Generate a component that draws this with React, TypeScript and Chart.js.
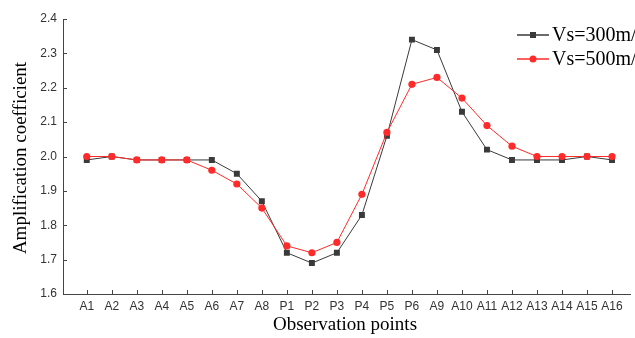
import React, { useEffect, useRef } from "react";
import { Chart, registerables } from "chart.js";

Chart.register(...registerables);

const categories = [
  "A1", "A2", "A3", "A4", "A5", "A6", "A7", "A8",
  "P1", "P2", "P3", "P4", "P5", "P6",
  "A9", "A10", "A11", "A12", "A13", "A14", "A15", "A16",
];
const vs300 = [1.99, 2.0, 1.99, 1.99, 1.99, 1.99, 1.95, 1.87, 1.72, 1.69, 1.72, 1.83, 2.06, 2.34, 2.31, 2.13, 2.02, 1.99, 1.99, 1.99, 2.0, 1.99];
const vs500 = [2.0, 2.0, 1.99, 1.99, 1.99, 1.96, 1.92, 1.85, 1.74, 1.72, 1.75, 1.89, 2.07, 2.21, 2.23, 2.17, 2.09, 2.03, 2.0, 2.0, 2.0, 2.0];
const yTicks = [1.6, 1.7, 1.8, 1.9, 2.0, 2.1, 2.2, 2.3, 2.4];
const seriesNames = ["Vs=300m/s", "Vs=500m/s"];
const xTitle = "Observation points";
const yTitle = "Amplification coefficient";

const BLACK = "#3a3a3a";
const RED = "#ff2a2a";
const AXIS = "#444";

const extrasPlugin = {
  id: "extras",
  afterDraw(chart: any) {
    const ctx = chart.ctx;
    const xs = chart.scales.x;
    const ys = chart.scales.y;
    const area = chart.chartArea;
    ctx.save();
    // inward ticks
    ctx.strokeStyle = AXIS;
    ctx.lineWidth = 1;
    ctx.beginPath();
    categories.forEach((_, i) => {
      const px = Math.round(xs.getPixelForValue(i)) + 0.5;
      ctx.moveTo(px, area.bottom);
      ctx.lineTo(px, area.bottom - 4);
    });
    yTicks.forEach((v) => {
      const py = Math.round(ys.getPixelForValue(v)) + 0.5;
      ctx.moveTo(area.left, py);
      ctx.lineTo(area.left + 4, py);
    });
    ctx.stroke();

    // axis titles
    ctx.fillStyle = "#000";
    ctx.font = '19px "Liberation Serif"';
    ctx.textAlign = "center";
    ctx.textBaseline = "middle";
    ctx.fillText(xTitle, 345, 325);
    ctx.save();
    ctx.translate(21, 158);
    ctx.rotate(-Math.PI / 2);
    ctx.fillText(yTitle, 0, 0);
    ctx.restore();

    // legend
    const rows = [
      { name: seriesNames[0], color: BLACK, style: "rect" },
      { name: seriesNames[1], color: RED, style: "circle" },
    ];
    rows.forEach((r, k) => {
      const y = 35 + k * 24;
      ctx.strokeStyle = r.color;
      ctx.lineWidth = 1.5;
      ctx.beginPath();
      ctx.moveTo(517, y);
      ctx.lineTo(549, y);
      ctx.stroke();
      ctx.fillStyle = r.color;
      if (r.style === "rect") {
        ctx.fillRect(530, y - 3, 6, 6);
      } else {
        ctx.beginPath();
        ctx.arc(533, y, 3.5, 0, Math.PI * 2);
        ctx.fill();
      }
      ctx.fillStyle = "#000";
      ctx.textAlign = "left";
      ctx.font = '20px "Liberation Serif"';
      ctx.fillText(r.name, 552, y + 1);
    });
    ctx.restore();
  },
};

export default function App() {
  const ref = useRef<HTMLCanvasElement>(null);
  useEffect(() => {
    if (!ref.current) return;
    const chart = new Chart(ref.current, {
      type: "line",
      data: {
        datasets: [
          {
            label: seriesNames[0],
            data: vs300.map((v, i) => ({ x: i, y: v })),
            borderColor: BLACK,
            backgroundColor: BLACK,
            borderWidth: 1,
            pointStyle: "rect",
            pointRadius: 4.2,
            pointBorderWidth: 0,
            order: 2,
          },
          {
            label: seriesNames[1],
            data: vs500.map((v, i) => ({ x: i, y: v })),
            borderColor: RED,
            backgroundColor: RED,
            borderWidth: 1,
            pointStyle: "circle",
            pointRadius: 3.6,
            pointBorderWidth: 0,
            order: 1,
          },
        ],
      },
      options: {
        animation: false,
        responsive: false,
        maintainAspectRatio: false,
        layout: { padding: { top: 19, right: 0, left: 0, bottom: 0 } },
        plugins: { legend: { display: false }, tooltip: { enabled: false } },
        scales: {
          x: {
            type: "linear",
            min: -0.95,
            max: 21.75,
            grid: { display: false, drawTicks: false, tickLength: 0 },
            border: { display: true, color: AXIS, width: 1 },
            ticks: {
              stepSize: 1,
              includeBounds: false,
              autoSkip: false,
              maxRotation: 0,
              padding: 5,
              color: "#333",
              font: { family: '"Liberation Sans"', size: 12 },
              callback: (v: any) => {
                const i = Number(v);
                return Number.isInteger(i) && categories[i] ? categories[i] : "";
              },
            },
            afterFit: (s: any) => {
              s.height = 44;
              s.paddingLeft = 0;
              s.paddingRight = 0;
            },
          },
          y: {
            min: 1.6,
            max: 2.4,
            grid: { display: false, drawTicks: false, tickLength: 0 },
            border: { display: true, color: AXIS, width: 1 },
            ticks: {
              stepSize: 0.1,
              padding: 6,
              color: "#333",
              font: { family: '"Liberation Sans"', size: 12 },
              callback: (v: any) => Number(v).toFixed(1),
            },
            afterFit: (s: any) => {
              s.width = 63;
              s.paddingTop = 0;
              s.paddingBottom = 0;
            },
          },
        },
      },
      plugins: [extrasPlugin],
    } as any);
    return () => chart.destroy();
  }, []);
  return (
    <canvas
      ref={ref}
      width={635}
      height={338}
      style={{ position: "fixed", left: 0, top: 0, width: 635, height: 338, background: "#fff" }}
    />
  );
}
